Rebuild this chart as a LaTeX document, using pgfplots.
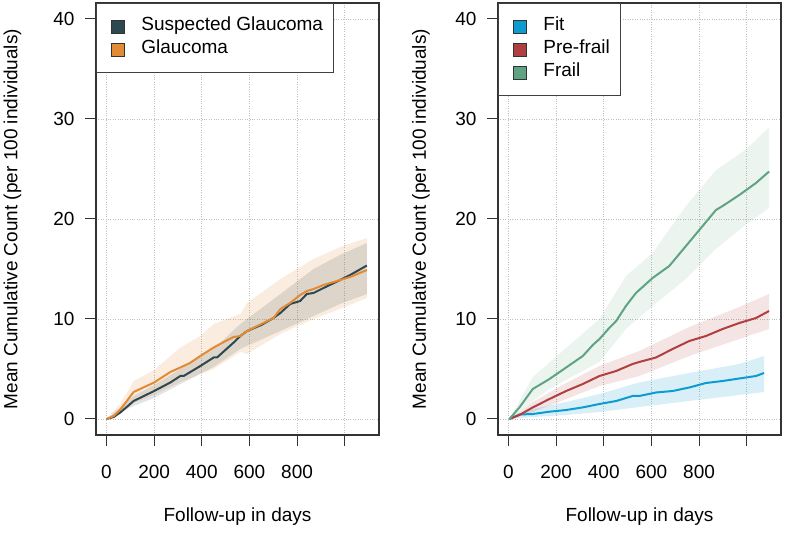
\documentclass[border=0pt]{standalone}
\usepackage{fontspec}
\setmainfont{Liberation Sans}
\usepackage{pgfplots}
\pgfplotsset{compat=1.18}

\definecolor{suspc}{HTML}{2F474E}
\definecolor{glauc}{HTML}{E38A34}
\definecolor{fitc}{HTML}{0E9BCF}
\definecolor{prec}{HTML}{B03F40}
\definecolor{frailc}{HTML}{5FA382}

\pgfplotsset{mcc/.style={
    scale only axis, width=283pt, height=432pt,
    xmin=-44, xmax=1144, ymin=-1.6, ymax=41.6,
    xtick={0,200,...,1000}, xticklabels={0,200,400,600,800,},
    ytick={0,10,...,40},
    xtick pos=left, ytick pos=left,
    tick align=outside, major tick length=11pt,
    tick style={black!80, line width=1pt},
    axis line style={black!80, line width=1.2pt},
    grid=major, grid style={dotted, gray!50, line width=0.9pt},
    font=\fontsize{19}{22}\selectfont,
    /pgf/number format/assume math mode=true,
    xticklabel style={yshift=-16pt},
    yticklabel style={xshift=-7pt},
    xlabel={Follow-up in days},
    ylabel={Mean Cumulative Count (per 100 individuals)},
    xlabel style={at={(axis description cs:0.5,-0.19)}, anchor=center},
    legend cell align=left,
    legend style={at={(0,1)}, anchor=north west, draw=black!75,
        line width=0.8pt, fill=white, inner xsep=8pt, inner ysep=11.5pt,
        row sep=0pt, font=\fontsize{19}{22}\selectfont,
        nodes={inner sep=2pt, text height=14pt, text depth=5pt}},
}}
\newcommand{\sq}[1]{\addlegendimage{legend image code/.code={
    \path[draw=none, fill=none] (0pt,0pt) rectangle (35pt,0.1pt);
    \draw[fill=#1, draw=black!80, line width=0.7pt] (7pt,-6.5pt) rectangle (20pt,6.5pt);}}}

\begin{document}
\begin{tikzpicture}

% left panel
\begin{axis}[mcc, at={(96pt,101pt)}, anchor=south west,
    ylabel style={at={(axis description cs:-0.295,0.5)}, anchor=center}]
\sq{suspc}\addlegendentry{Suspected Glaucoma}
\sq{glauc}\addlegendentry{Glaucoma}

% Glaucoma band: upper edge, then lower edge backwards
\addplot[fill=glauc, fill opacity=0.16, draw=none, forget plot] coordinates {
(0,0) (60,1.6) (114,3.8) (200,4.9) (310,7.15) (394,8.3) (450,9.5) (562,10.5)
(590,11.6) (730,14.0) (841,15.6) (869,16.0) (980,17.2) (1093,18.1)
(1093,12.1) (980,11.0) (869,10.0) (730,8.5) (590,6.5) (562,6.7) (450,5.0)
(310,3.7) (200,2.4) (114,1.6) (60,0.5)} -- cycle;
% Suspected band
\addplot[fill=suspc, fill opacity=0.14, draw=none, forget plot] coordinates {
(0,0) (114,2.3) (200,3.4) (310,5.0) (450,7.0) (562,9.5) (730,12.5) (869,15.0)
(980,16.4) (1093,17.6)
(1093,12.5) (980,11.5) (869,10.3) (730,8.8) (562,7.0) (450,5.2) (310,3.5)
(200,2.1) (114,1.3)} -- cycle;

\addplot[suspc, line width=2pt, forget plot] coordinates {
(0,0) (30,0.2) (59,0.67) (114,1.8) (200,2.8) (268,3.65) (310,4.3) (324,4.3)
(394,5.3) (450,6.15) (464,6.15) (534,7.65) (562,8.3) (590,8.8) (650,9.4)
(701,10.1) (730,10.6) (771,11.5) (813,11.8) (841,12.5) (869,12.6) (911,13.1)
(981,13.9) (1023,14.4) (1093,15.35)};
\addplot[glauc, line width=2pt, forget plot] coordinates {
(0,0) (30,0.3) (60,1.0) (114,2.7) (150,3.1) (200,3.65) (268,4.7) (310,5.15)
(350,5.6) (394,6.3) (450,7.15) (500,7.8) (534,8.2) (562,8.3) (590,8.8)
(650,9.5) (701,10.1) (730,11.0) (771,11.6) (813,12.4) (841,12.8) (869,13.0)
(911,13.4) (981,13.9) (1023,14.2) (1093,14.9)};
\end{axis}

% right panel
\begin{axis}[mcc, at={(498pt,101pt)}, anchor=south west,
    ylabel style={at={(axis description cs:-0.272,0.5)}, anchor=center}]
\sq{fitc}\addlegendentry{Fit}
\sq{prec}\addlegendentry{Pre-frail}
\sq{frailc}\addlegendentry{Frail}

\addplot[fill=fitc, fill opacity=0.16, draw=none, forget plot] coordinates {
(4,0) (102,1.0) (242,1.7) (382,2.5) (549,3.65) (759,4.6) (969,5.5) (1073,6.3)
(1073,2.7) (969,2.4) (759,1.8) (549,1.2) (382,0.7) (242,0.4) (102,0.2)} -- cycle;
\addplot[fill=prec, fill opacity=0.14, draw=none, forget plot] coordinates {
(4,0) (102,1.7) (242,3.6) (382,5.3) (549,6.8) (759,9.2) (969,11.2) (1094,12.5)
(1094,9.0) (969,8.0) (759,6.3) (549,4.3) (382,3.3) (242,2.0) (102,0.7)} -- cycle;
\addplot[fill=frailc, fill opacity=0.12, draw=none, forget plot] coordinates {
(4,0) (102,4.2) (172,5.65) (382,10.0) (493,14.3) (605,16.6) (745,21.3)
(871,24.9) (1000,27.0) (1094,29.2)
(1094,21.1) (1000,19.5) (871,17.0) (745,14.0) (605,11.3) (493,9.0) (382,5.7)
(172,3.0) (102,1.8)} -- cycle;

\addplot[fitc, line width=2pt, forget plot] coordinates {
(4,0) (46,0.45) (102,0.5) (172,0.73) (242,0.9) (312,1.16) (382,1.5) (452,1.8)
(521,2.3) (549,2.3) (619,2.65) (689,2.8) (759,3.15) (829,3.6) (899,3.8)
(969,4.05) (1039,4.3) (1073,4.6)};
\addplot[prec, line width=2pt, forget plot] coordinates {
(4,0) (46,0.4) (102,1.16) (172,2.0) (242,2.8) (312,3.5) (382,4.3) (452,4.8)
(521,5.5) (549,5.7) (619,6.15) (689,7.0) (759,7.8) (829,8.3) (899,9.0)
(969,9.6) (1039,10.1) (1094,10.8)};
\addplot[frailc, line width=2pt, forget plot] coordinates {
(4,0) (46,1.16) (102,3.0) (172,4.0) (242,5.15) (312,6.3) (354,7.4) (382,8.0)
(423,9.1) (452,9.8) (493,11.3) (535,12.6) (605,14.1) (675,15.3) (745,17.3)
(815,19.3) (871,20.9) (899,21.3) (969,22.4) (1039,23.6) (1094,24.75)};
\end{axis}

\pgfresetboundingbox
\path[use as bounding box] (0pt,0pt) rectangle (785pt,536pt);
\end{tikzpicture}
\end{document}
